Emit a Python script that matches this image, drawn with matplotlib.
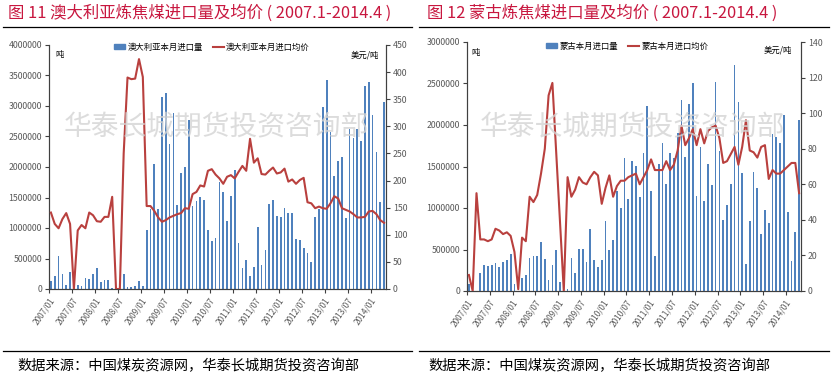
import numpy as np
import pandas as pd
import matplotlib
matplotlib.use('Agg')
import matplotlib.pyplot as plt
from matplotlib.patches import Patch
from matplotlib.lines import Line2D
from matplotlib.ticker import FuncFormatter

plt.rcParams['font.family'] = ['Noto Sans CJK SC', 'DejaVu Sans']

# months 2007/01 .. 2014/04
months = pd.date_range('2007-01', '2014-04', freq='MS').strftime('%Y/%m').tolist()

# Australia: monthly import volume (t) and average price (USD/t)
aus_vol = [131000, 213000, 541000, 240000, 66000, 279000, 0, 66000, 55000, 186000,
           164000, 240000, 350000, 115000, 142000, 148000, 16000, 0, 0, 251000,
           38000, 38000, 49000, 126000, 44000, 967000, 1306000, 2049000, 1317000, 3148000,
           3208000, 2383000, 2880000, 1377000, 1907000, 2000000, 2765000, 1361000, 1437000, 1514000,
           1459000, 962000, 787000, 836000, 1750000, 1585000, 1109000, 1524000, 1951000, 759000,
           350000, 481000, 213000, 361000, 1022000, 388000, 639000, 1388000, 1459000, 1197000,
           1186000, 1322000, 1251000, 1240000, 814000, 803000, 672000, 585000, 437000, 1180000,
           1306000, 2989000, 3421000, 2579000, 1852000, 2098000, 2158000, 1158000, 2628000, 2470000,
           2617000, 2432000, 3333000, 3388000, 2852000, 2240000, 1426000, 3066000]
aus_price = [141, 120, 112, 129, 140, 120, 0, 108, 118, 112,
             141, 136, 125, 124, 133, 133, 170, 0, 0, 250,
             390, 387, 388, 424, 391, 153, 153, 144, 132, 124,
             127, 132, 135, 138, 140, 149, 148, 175, 179, 191,
             189, 218, 221, 211, 204, 194, 207, 210, 204, 216,
             227, 218, 277, 233, 241, 212, 211, 218, 224, 213,
             215, 222, 198, 202, 194, 201, 205, 160, 158, 149,
             152, 149, 148, 158, 171, 167, 149, 146, 143, 138,
             132, 132, 133, 143, 144, 138, 127, 122]

# Mongolia: monthly import volume (t) and average price (USD/t)
mng_vol = [80000, 0, 0, 213000, 318000, 306000, 314000, 338000, 285000, 354000,
           370000, 442000, 84000, 0, 157000, 189000, 398000, 422000, 418000, 587000,
           386000, 133000, 318000, 490000, 113000, 0, 24000, 402000, 213000, 511000,
           511000, 354000, 744000, 374000, 294000, 370000, 844000, 490000, 615000, 1202000,
           1001000, 1604000, 1106000, 1564000, 1512000, 1138000, 1661000, 2232000, 1210000, 426000,
           1528000, 1789000, 1291000, 1665000, 1604000, 1902000, 2304000, 1612000, 2256000, 2509000,
           1146000, 1737000, 1082000, 1536000, 1283000, 2521000, 1685000, 860000, 1041000, 1291000,
           2718000, 2280000, 1419000, 326000, 840000, 1435000, 1242000, 684000, 977000, 820000,
           1886000, 1854000, 1785000, 2115000, 949000, 358000, 716000, 2059000]
mng_price = [9, 0, 55, 29, 29, 28, 29, 35, 34, 32,
             33, 31, 22, 1, 30, 28, 53, 50, 54, 66,
             80, 110, 117, 78, 39, 0, 64, 53, 57, 64,
             61, 60, 64, 67, 65, 49, 58, 65, 53, 59,
             62, 62, 64, 65, 66, 60, 64, 68, 74, 68,
             68, 68, 73, 68, 71, 79, 93, 82, 86, 91,
             82, 91, 83, 90, 92, 93, 86, 72, 73, 77,
             81, 71, 81, 96, 79, 78, 75, 81, 82, 63,
             68, 66, 66, 68, 70, 72, 72, 55]

titles = ['图 11 澳大利亚炼焦煤进口量及均价 ( 2007.1-2014.4 )',
          '图 12 蒙古炼焦煤进口量及均价 ( 2007.1-2014.4 )']
vol_names = ['澳大利亚本月进口量', '蒙古本月进口量']
price_names = ['澳大利亚本月进口均价', '蒙古本月进口均价']
source = '数据来源：中国煤炭资源网，华泰长城期货投资咨询部'
watermark = '华泰长城期货投资咨询部'

W, H = 831, 381
BAR = '#4F81BD'
LINE = '#B9403E'
TICK = '#595959'


def fx(x):
    return x / W


def fy(y):
    return 1 - y / H


fig = plt.figure(figsize=(W / 100, H / 100), dpi=100)

panels = [
    dict(box=(49, 45, 386, 289), vol=aus_vol, price=aus_price, vmax=4000000, vstep=500000,
         pmax=450, pstep=50, title_x=8, leg_x=212, leg_y=47, unit_l=(60, 54), unit_r=(365, 55),
         wm=(216, 127), src_x=17),
    dict(box=(467, 42, 801, 291), vol=mng_vol, price=mng_price, vmax=3000000, vstep=500000,
         pmax=140, pstep=20, title_x=427, leg_x=627, leg_y=46, unit_l=(476, 52), unit_r=(778, 50),
         wm=(632, 127), src_x=428),
]

x = np.arange(len(months))
for k, p in enumerate(panels):
    x0, y0, x1, y1 = p['box']
    ax = fig.add_axes([fx(x0), fy(y1), fx(x1 - x0), (y1 - y0) / H])
    ax.bar(x, p['vol'], width=0.45, color=BAR, zorder=2)
    ax.set_xlim(-0.5, len(months) - 0.5)
    ax.set_ylim(0, p['vmax'])
    ax.set_yticks(np.arange(0, p['vmax'] + 1, p['vstep']))
    ax.yaxis.set_major_formatter(FuncFormatter(lambda v, pos: '%d' % v))

    axr = ax.twinx()
    axr.plot(x, p['price'], color=LINE, lw=1.5, zorder=3)
    axr.set_ylim(0, p['pmax'])
    axr.set_yticks(np.arange(0, p['pmax'] + 1, p['pstep']))

    ax.set_xticks(np.arange(0, len(months), 6) - 0.5)
    ax.set_xticklabels(months[::6], rotation=55, ha='right', va='top',
                       rotation_mode='anchor', fontsize=6, color=TICK)
    for a in (ax, axr):
        a.spines['top'].set_visible(False)
        for s in ('left', 'right', 'bottom'):
            a.spines[s].set_color('#404040')
            a.spines[s].set_linewidth(0.8)
        a.tick_params(axis='y', labelsize=6.3, labelcolor=TICK, length=3, width=0.8,
                      color='#404040', pad=2)
    ax.tick_params(axis='x', length=3, width=0.8, color='#404040', pad=2)

    # legend
    handles = [Patch(color=BAR), Line2D([0], [0], color=LINE, lw=1.5)]
    axr.legend(handles, [vol_names[k], price_names[k]], ncol=2, frameon=False,
               loc='center', bbox_to_anchor=(fx(p['leg_x']), fy(p['leg_y'])),
               bbox_transform=fig.transFigure, fontsize=6, handlelength=1.3,
               handleheight=0.6, columnspacing=1.2, handletextpad=0.3)

    # units
    fig.text(fx(p['unit_l'][0]), fy(p['unit_l'][1]), '吨', fontsize=6, ha='center', va='center')
    fig.text(fx(p['unit_r'][0]), fy(p['unit_r'][1]), '美元/吨', fontsize=6, ha='center', va='center')

    # watermark
    fig.text(fx(p['wm'][0]), fy(p['wm'][1]), watermark, fontsize=20, color='#D4D4D4',
             alpha=0.8, ha='center', va='center', zorder=10)

    # title, rules and source
    fig.text(fx(p['title_x']), fy(13), titles[k], fontsize=11.8, color='#C8173F',
             ha='left', va='center')
    fig.text(fx(p['src_x']), fy(366), source, fontsize=10.3, color='black',
             ha='left', va='center')

for xa, xb in [(3, 412), (419, 829)]:
    fig.add_artist(Line2D([fx(xa), fx(xb)], [fy(27), fy(27)], color='black', lw=0.9))
    fig.add_artist(Line2D([fx(xa), fx(xb)], [fy(350.5), fy(350.5)], color='black', lw=0.9))

fig.savefig('out.png', dpi=100)
